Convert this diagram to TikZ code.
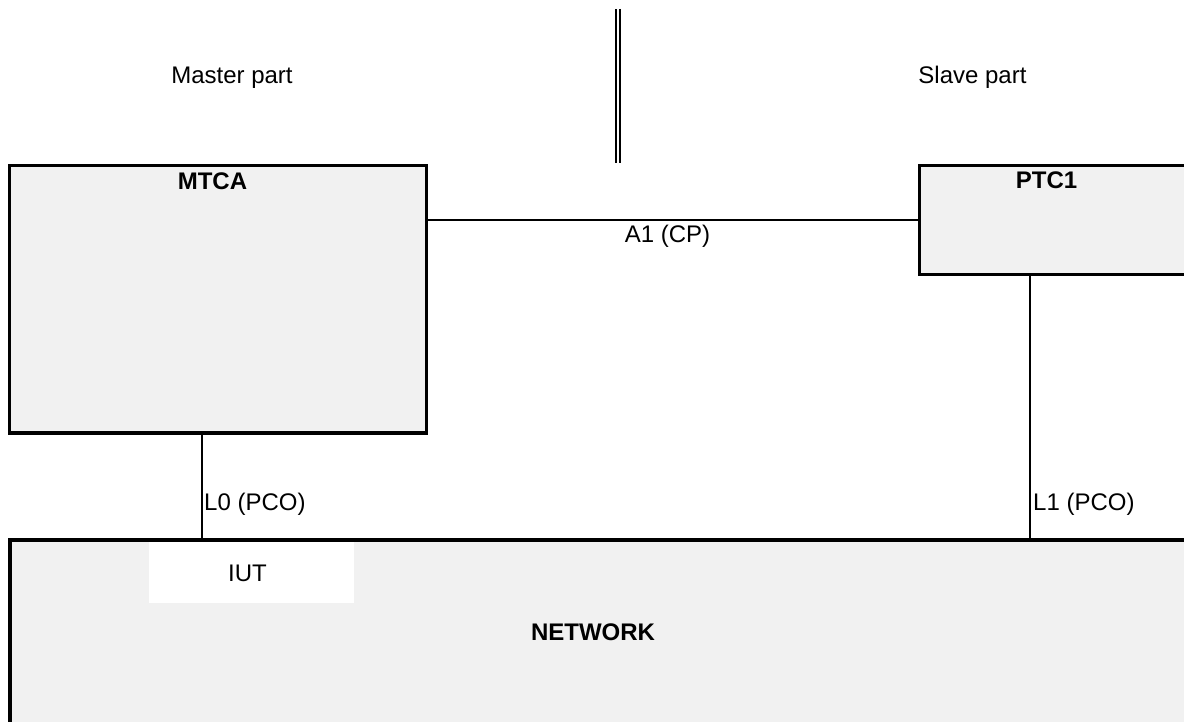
\documentclass[tikz,border=0pt]{standalone}
\usepackage{fontspec}
\setmainfont{Liberation Sans}
\definecolor{boxfill}{HTML}{F1F1F1}
\begin{document}
\begin{tikzpicture}[x=1pt,y=-1pt,
  box/.style={draw=black, line width=3.5pt, fill=boxfill, anchor=north west, inner sep=0pt, outer sep=0pt},
  conn/.style={draw=black, line width=2pt},
  lbl/.style={inner sep=0pt, font=\fontsize{24}{28}\selectfont, anchor=base},
  blbl/.style={lbl, font=\fontsize{24}{28}\selectfont\bfseries}]
\useasboundingbox (0,0) rectangle (1184,722);
\clip (0,0) rectangle (1184,722);
% boxes
\node[box, minimum width=417pt, minimum height=267.5pt] (mtca) at (9.5,165.5) {};
\node[box, minimum width=300pt, minimum height=109pt] (ptc1) at (919.5,165.5) {};
\node[box, minimum width=1200pt, minimum height=250pt] (net) at (10,540) {};
\node[fill=white, inner sep=0pt, anchor=north west, minimum width=205pt, minimum height=61pt] (iut) at (149,542) {};
% separator
\coordinate (septop) at (618,9);
\coordinate (sepbot) at (618,163);
\draw[line width=2pt, double=white, double distance=2pt] (septop) -- (sepbot);
% connectors
\coordinate (l0x) at (202,0);
\coordinate (l1x) at (1030,0);
\draw[conn] (mtca.east |- ptc1.west) -- (ptc1.west);
\draw[conn] (l0x |- mtca.south) -- (l0x |- net.north);
\draw[conn] (l1x |- ptc1.south) -- (l1x |- net.north);
% texts
\node[lbl] (master) at (232,83.3) {Master part};
\node[lbl] (slave) at (972.5,83.3) {Slave part};
\node[blbl] (mtcat) at (212.5,190) {MTCA};
\node[blbl] (ptc1t) at (1046.5,189) {PTC1};
\node[lbl] (a1) at (667.5,243) {A1 (CP)};
\node[lbl, anchor=base west] (l0) at (204,510.7) {L0 (PCO)};
\node[lbl, anchor=base west] (l1) at (1033,510) {L1 (PCO)};
\node[lbl] (iutt) at (247.5,581.7) {IUT};
\node[blbl] (network) at (593,640.7) {NETWORK};
\end{tikzpicture}
\end{document}
